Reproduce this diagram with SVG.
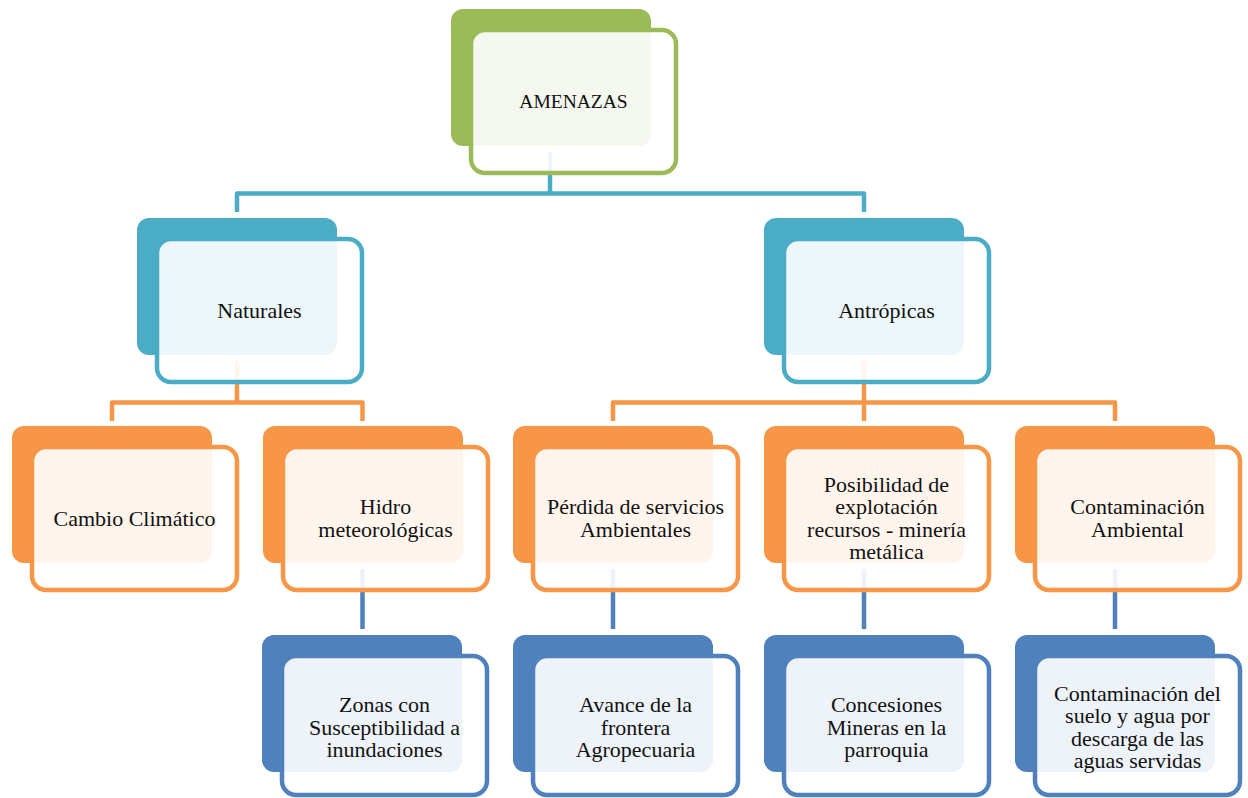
<svg xmlns="http://www.w3.org/2000/svg" width="1248" height="798" viewBox="0 0 1248 798">
<style>
.bg{fill:#ffffff}
.t{font-family:"Liberation Serif","Times New Roman",serif;font-size:22px;fill:#111111;text-anchor:middle}
.t.big{font-size:19.5px}
.front{fill:#ffffff;fill-opacity:0.9;stroke-width:4.5}
.g .back{fill:#9BBB59}.g .front{stroke:#9BBB59}
.c .back{fill:#4BACC6}.c .front{stroke:#4BACC6}
.o .back{fill:#F79646}.o .front{stroke:#F79646}
.b .back{fill:#4F81BD}.b .front{stroke:#4F81BD}
.conn{fill:none;stroke-width:4.5;stroke-linejoin:round}
</style>
<rect class="bg" x="0" y="0" width="1248" height="798"/>
<g id="connectors">
<path class="conn" stroke="#4BACC6" d="M550,152 V193.5 M237,212 V193.5 H864 V212"/>
<path class="conn" stroke="#F79646" d="M237,361 V402.5 M112,421 V402.5 H362.5 V421 M864,361 V421 M613,421 V402.5 H1115 V421"/>
<path class="conn" stroke="#4F81BD" d="M362.5,569 V629 M613,569 V629 M864,569 V629 M1115,569 V629"/>
</g>
<g id="amenazas" class="g">
<rect class="back" x="451" y="9" width="200" height="137" rx="12"/>
<rect class="front" x="471" y="30" width="205" height="143" rx="14"/>
<text class="t big" x="573.5" y="108">AMENAZAS</text>
</g>
<g id="naturales" class="c">
<rect class="back" x="137" y="218" width="200" height="137" rx="12"/>
<rect class="front" x="157" y="239" width="205" height="143" rx="14"/>
<text class="t" x="259.5" y="317.5">Naturales</text>
</g>
<g id="antropicas" class="c">
<rect class="back" x="764" y="218" width="200" height="137" rx="12"/>
<rect class="front" x="784" y="239" width="205" height="143" rx="14"/>
<text class="t" x="886.5" y="317.5">Antrópicas</text>
</g>
<g id="cambio" class="o">
<rect class="back" x="12" y="426" width="200" height="137" rx="12"/>
<rect class="front" x="32" y="447" width="205" height="143" rx="14"/>
<text class="t" x="134.5" y="525.5">Cambio Climático</text>
</g>
<g id="hidro" class="o">
<rect class="back" x="263" y="426" width="200" height="137" rx="12"/>
<rect class="front" x="283" y="447" width="205" height="143" rx="14"/>
<text class="t" x="385.5" y="514.25"><tspan x="385.5">Hidro</tspan><tspan x="385.5" dy="22.5">meteorológicas</tspan></text>
</g>
<g id="perdida" class="o">
<rect class="back" x="513" y="426" width="200" height="137" rx="12"/>
<rect class="front" x="533" y="447" width="205" height="143" rx="14"/>
<text class="t" x="635.5" y="514.25"><tspan x="635.5">Pérdida de servicios</tspan><tspan x="635.5" dy="22.5">Ambientales</tspan></text>
</g>
<g id="posibilidad" class="o">
<rect class="back" x="764" y="426" width="200" height="137" rx="12"/>
<rect class="front" x="784" y="447" width="205" height="143" rx="14"/>
<text class="t" x="886.5" y="491.75"><tspan x="886.5">Posibilidad de</tspan><tspan x="886.5" dy="22.5">explotación</tspan><tspan x="886.5" dy="22.5">recursos - minería</tspan><tspan x="886.5" dy="22.5">metálica</tspan></text>
</g>
<g id="contaminacion" class="o">
<rect class="back" x="1015" y="426" width="200" height="137" rx="12"/>
<rect class="front" x="1035" y="447" width="205" height="143" rx="14"/>
<text class="t" x="1137.5" y="514.25"><tspan x="1137.5">Contaminación</tspan><tspan x="1137.5" dy="22.5">Ambiental</tspan></text>
</g>
<g id="zonas" class="b">
<rect class="back" x="262" y="635" width="200" height="137" rx="12"/>
<rect class="front" x="282" y="656" width="205" height="139" rx="14"/>
<text class="t" x="384.5" y="712"><tspan x="384.5">Zonas con</tspan><tspan x="384.5" dy="22.5">Susceptibilidad a</tspan><tspan x="384.5" dy="22.5">inundaciones</tspan></text>
</g>
<g id="avance" class="b">
<rect class="back" x="513" y="635" width="200" height="137" rx="12"/>
<rect class="front" x="533" y="656" width="205" height="139" rx="14"/>
<text class="t" x="635.5" y="712"><tspan x="635.5">Avance de la</tspan><tspan x="635.5" dy="22.5">frontera</tspan><tspan x="635.5" dy="22.5">Agropecuaria</tspan></text>
</g>
<g id="concesiones" class="b">
<rect class="back" x="764" y="635" width="200" height="137" rx="12"/>
<rect class="front" x="784" y="656" width="205" height="139" rx="14"/>
<text class="t" x="886.5" y="712"><tspan x="886.5">Concesiones</tspan><tspan x="886.5" dy="22.5">Mineras en la</tspan><tspan x="886.5" dy="22.5">parroquia</tspan></text>
</g>
<g id="contaminacion-suelo" class="b">
<rect class="back" x="1015" y="635" width="200" height="137" rx="12"/>
<rect class="front" x="1035" y="656" width="205" height="139" rx="14"/>
<text class="t" x="1137.5" y="700.75"><tspan x="1137.5">Contaminación del</tspan><tspan x="1137.5" dy="22.5">suelo y agua por</tspan><tspan x="1137.5" dy="22.5">descarga de las</tspan><tspan x="1137.5" dy="22.5">aguas servidas</tspan></text>
</g>
</svg>
